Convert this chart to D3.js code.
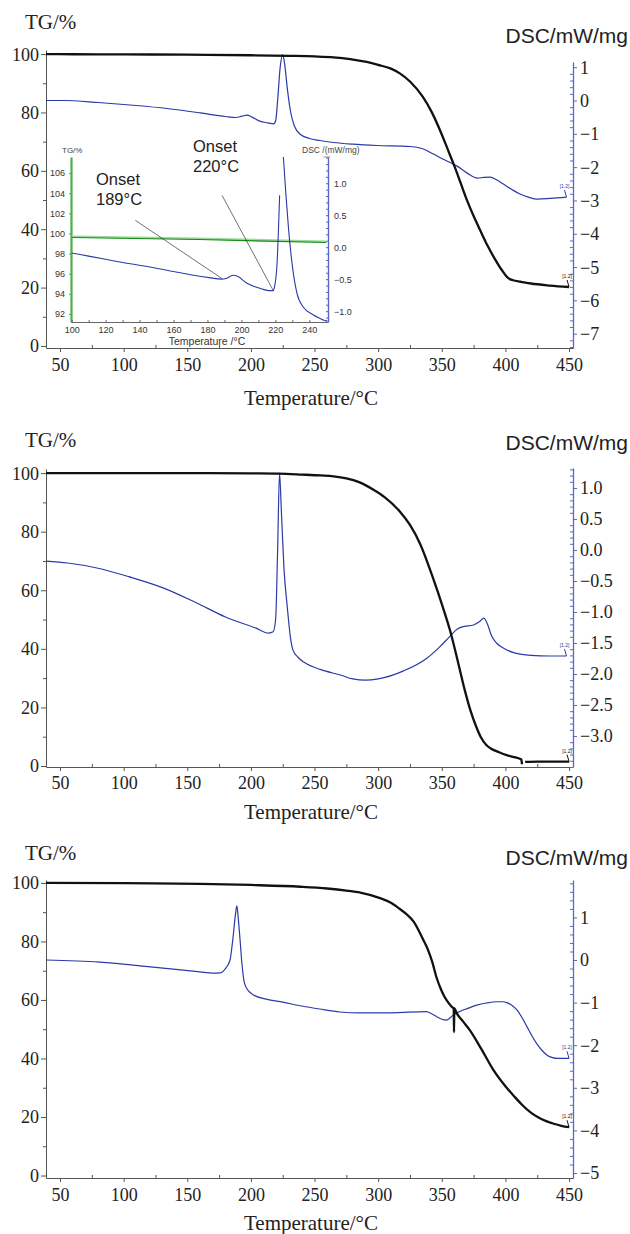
<!DOCTYPE html>
<html>
<head>
<meta charset="utf-8">
<script src="https://cdn.jsdelivr.net/npm/d3@7"></script>
<style>
  body { margin: 0; background: #fff; }
</style>
</head>
<body>
<div id="chart"></div>
<script>
// ---- data ----
const tempTicks = [50, 100, 150, 200, 250, 300, 350, 400, 450];
const tgTicks = [0, 20, 40, 60, 80, 100];
const dscTicks1 = [1, 0, -1, -2, -3, -4, -5, -6, -7];
const dscTicks2 = [1.0, 0.5, 0.0, -0.5, -1.0, -1.5, -2.0, -2.5, -3.0];
const dscTicks3 = [1, 0, -1, -2, -3, -4, -5];

// [temperature, TG %]
const tg1 = [[39,100],[60,99.95],[100,99.9],[150,99.8],[200,99.6],[230,99.4],[250,99.2],[265,98.9],[278,98.3],
  [291,97.3],[300,96.3],[310,95.0],[317,93.4],[325,90.6],[335,85.4],[342,80.2],[349,73.5],[355,67],[360,61.5],
  [365,55.6],[370,49.7],[375,44.5],[380,39.8],[386,34.3],[392,29.6],[397,26.1],[402,23.3],[406,22.5],[412,22],
  [420,21.4],[435,20.7],[450,20.2]];
// [temperature, DSC mW/mg]
const dsc1 = [[39,0],[53,0],[80,-0.06],[110,-0.15],[134,-0.24],[160,-0.37],[180,-0.48],[188,-0.51],[193,-0.47],
  [197,-0.44],[201,-0.5],[207,-0.62],[213,-0.67],[218,-0.7],[219.5,-0.6],[221,0],[223,1.0],[225,1.38],
  [226.5,1.1],[228.5,0.4],[231,-0.3],[234,-0.75],[239,-1.02],[246,-1.14],[254,-1.2],[265,-1.26],[280,-1.31],
  [299,-1.35],[325,-1.38],[335,-1.45],[343,-1.6],[352,-1.78],[362,-1.97],[370,-2.18],[378,-2.33],[383,-2.31],
  [388,-2.3],[393,-2.38],[398,-2.5],[405,-2.67],[411,-2.8],[418,-2.9],[425,-2.96],[435,-2.94],[448,-2.9]];

const tg2 = [[39,100],[100,100],[150,100],[200,99.9],[222,99.8],[240,99.5],[255,99.2],[265,98.9],[275,98.2],
  [285,96.9],[296,94.4],[305,91.8],[317,86.9],[325,82.3],[333,75.8],[343,64.3],[351,54],[357,45.5],[363,35],
  [368,26],[372.5,19],[377,13.5],[380.5,10],[385,7.2],[388.5,6],[395,4.7],[401,3.7],[407,3],[412.5,2.2],
  [413,0.6],[414,null],[415.5,1.4],[425,1.5],[440,1.5],[450,1.5]];
const dsc2 = [[39,-0.18],[56,-0.21],[79,-0.29],[104,-0.43],[131,-0.61],[157,-0.85],[180,-1.08],[204,-1.26],
  [214,-1.34],[217.5,-1.32],[219.5,-1.1],[221,0],[222.5,1.24],[224,0.6],[226,-0.3],[228.5,-0.9],[231,-1.4],
  [233,-1.61],[237,-1.73],[242.5,-1.82],[255,-1.93],[271,-2.02],[280,-2.08],[290,-2.1],[300,-2.08],[320,-1.95],
  [338,-1.75],[348,-1.57],[356,-1.4],[362,-1.28],[366,-1.24],[375,-1.21],[380,-1.15],[383,-1.1],[386,-1.2],
  [389,-1.38],[393,-1.5],[400,-1.6],[407,-1.66],[420,-1.7],[435,-1.71],[448,-1.71]];

const tg3 = [[39,100],[100,99.9],[160,99.7],[200,99.3],[239,98.7],[260,98.1],[275,97.4],[286,96.7],[301.5,94.8],
  [310,93.2],[317,91.1],[322,89.4],[328,86.7],[335.5,80.5],[339,77.3],[342.5,73],[346,67.5],[349,64],[352,61.2],
  [355,59.2],[358,57.6],[359.4,57],[359.6,49],[359.8,57.2],[361.7,55.5],[367,52.5],[372,49.7],[381,43.3],
  [390.5,36.1],[400,30.5],[407,27],[413,24.2],[420,21.5],[426,19.8],[432,18.6],[438,17.7],[444,17],[450,16.5]];
const dsc3 = [[39,0],[81,-0.05],[121,-0.16],[160,-0.28],[170,-0.31],[176,-0.3],[180,-0.2],[183.6,0],[186,0.54],
  [188,1.1],[189,1.27],[190,1.0],[191.5,0.47],[193,-0.1],[195,-0.55],[198,-0.72],[202,-0.82],[212,-0.92],
  [225,-0.99],[240,-1.08],[254,-1.15],[270,-1.22],[286,-1.24],[310,-1.24],[338,-1.21],[342,-1.26],[346,-1.33],
  [350,-1.39],[353.3,-1.41],[356,-1.37],[359,-1.29],[364,-1.21],[370,-1.14],[377.5,-1.06],[385,-1.01],
  [393,-0.98],[398,-0.98],[401,-1.0],[405,-1.06],[409,-1.17],[413,-1.35],[417,-1.57],[421,-1.79],[425,-1.98],
  [429,-2.13],[433,-2.24],[437,-2.29],[441,-2.31],[450,-2.31]];

// inset of plot 1
const insetTempTicks = [100, 120, 140, 160, 180, 200, 220, 240];
const insetTgTicks = [92, 94, 96, 98, 100, 102, 104, 106];
const insetDscTicks = [1.0, 0.5, 0.0, -0.5, -1.0];
const insetTg = [[100,99.6],[175,99.4],[250,99.1]];
const insetDsc = [[100,-0.09],[110,-0.14],[120,-0.19],[130,-0.24],[146,-0.31],[160,-0.38],[170,-0.43],[182,-0.48],
  [188,-0.5],[191,-0.49],[195,-0.44],[198,-0.46],[203,-0.56],[208,-0.62],[213,-0.66],[216,-0.68],[218.6,-0.68],
  [219.5,-0.62],[221,-0.25],[222.5,0.81],[223.5,null],[224.7,1.42],[226,0.9],[227.8,0.27],[229.8,-0.25],
  [232.7,-0.72],[236.5,-0.94],[242.4,-1.06],[246,-1.11],[250.4,-1.16]];
const onsetNames = ["189°C", "220°C"];
const onsetPoints = [[188.5,-0.49],[218.8,-0.68]];   // where the leader lines end
const leaderStarts = [[137.5,0.42],[188.6,0.81]];

// ---- drawing ----
const W = 630, H = 1234;
const serif = "'Liberation Serif','Times New Roman',serif";
const sans = "'Liberation Sans',Arial,sans-serif";
const blue = "#2a3aa6";
const axisBlue = "#5a68c4";
const axisGray = "#555";

const svg = d3.select("#chart").append("svg").attr("width", W).attr("height", H);

const x = d3.scaleLinear().domain([39, 453.1]).range([46, 573]);

const panels = [
  {tg: tg1, dsc: dsc1, dscTicks: dscTicks1, minorStep: 0.2, fmt: d3.format("d"),
   top: 50, rightTop: 62, bottom: 348, tgDom: [-0.7, 101.4], dscDom: [-7.43, 1.156],
   tickY: 371, titleY: 405, tgLabelY: 29, dscLabelY: 43},
  {tg: tg2, dsc: dsc2, dscTicks: dscTicks2, minorStep: 0.1, fmt: d3.format(".1f"),
   top: 469, rightTop: 468, bottom: 767, tgDom: [-0.34, 101.4], dscDom: [-3.5, 1.3226],
   tickY: 789, titleY: 819, tgLabelY: 447, dscLabelY: 450},
  {tg: tg3, dsc: dsc3, dscTicks: dscTicks3, minorStep: 0.2, fmt: d3.format("d"),
   top: 880, rightTop: 880, bottom: 1178, tgDom: [-0.85, 101.0], dscDom: [-5.117, 1.878],
   tickY: 1201, titleY: 1230, tgLabelY: 860, dscLabelY: 865}
];

function styleAxis(g, color, font, size) {
  g.select(".domain").attr("stroke", color);
  g.selectAll(".tick line").attr("stroke", color);
  g.selectAll("text").attr("fill", "#222").style("font-family", font).style("font-size", size + "px");
}

function endMarker(g, pt, xs, ys, color) {
  var px = xs(pt[0]), py = ys(pt[1]);
  g.append("path").attr("d", "M" + px + "," + py + "L" + (px - 2) + "," + (py - 7))
    .attr("stroke", color).attr("fill", "none").attr("stroke-width", 1);
  g.append("text").attr("x", px - 2).attr("y", py - 9).attr("text-anchor", "middle")
    .style("font-family", sans).style("font-size", "5px").attr("fill", color).text("[1.2]");
}

panels.forEach(function(p) {
  var g = svg.append("g");
  var yTg = d3.scaleLinear().domain(p.tgDom).range([p.bottom, p.top]);
  var yDsc = d3.scaleLinear().domain(p.dscDom).range([p.bottom, p.rightTop]);

  // left TG axis
  var left = g.append("g").attr("transform", "translate(46,0)")
    .call(d3.axisLeft(yTg).tickValues(tgTicks).tickSize(5).tickSizeOuter(0).tickPadding(2));
  styleAxis(left, axisGray, serif, 18);
  left.selectAll("text").attr("dy", "0.33em");
  var leftMinor = g.append("g").attr("transform", "translate(46,0)")
    .call(d3.axisLeft(yTg).tickValues([10, 30, 50, 70, 90]).tickSize(3).tickFormat(""));
  leftMinor.select(".domain").remove();
  leftMinor.selectAll("line").attr("stroke", axisGray);

  // bottom temperature axis
  var bottom = g.append("g").attr("transform", "translate(0," + p.bottom + ")")
    .call(d3.axisBottom(x).tickValues(tempTicks).tickSize(4).tickSizeOuter(0));
  styleAxis(bottom, axisGray, serif, 18);
  bottom.selectAll("text").attr("y", p.tickY - p.bottom).attr("dy", 0);
  var bottomMinor = g.append("g").attr("transform", "translate(0," + p.bottom + ")")
    .call(d3.axisBottom(x).tickValues(d3.range(75, 450, 50)).tickSize(-3).tickFormat(""));
  bottomMinor.select(".domain").remove();
  bottomMinor.selectAll("line").attr("stroke", axisGray);

  // right DSC axis
  var right = g.append("g").attr("transform", "translate(573,0)")
    .call(d3.axisRight(yDsc).tickValues(p.dscTicks).tickSize(4).tickSizeOuter(0).tickPadding(3).tickFormat(p.fmt));
  styleAxis(right, axisBlue, serif, 18);
  right.select(".domain").attr("stroke-width", 1.3);
  right.selectAll("text").attr("dy", "0.33em");
  var minors = d3.range(Math.ceil(p.dscDom[0] / p.minorStep), Math.floor(p.dscDom[1] / p.minorStep) + 1)
    .map(function(i) { return +(i * p.minorStep).toFixed(2); })
    .filter(function(v) { return p.dscTicks.indexOf(v) < 0; });
  var rightMinor = g.append("g").attr("transform", "translate(573,0)")
    .call(d3.axisRight(yDsc).tickValues(minors).tickSize(-3).tickFormat(""));
  rightMinor.select(".domain").remove();
  rightMinor.selectAll("line").attr("stroke", axisBlue);

  // titles
  g.append("text").attr("x", 25).attr("y", p.tgLabelY).style("font-family", serif).style("font-size", "21px")
    .attr("fill", "#222").text("TG/%");
  g.append("text").attr("x", 628).attr("y", p.dscLabelY).attr("text-anchor", "end")
    .style("font-family", sans).style("font-size", "21px").attr("fill", "#222").text("DSC/mW/mg");
  g.append("text").attr("x", 311).attr("y", p.titleY).attr("text-anchor", "middle")
    .style("font-family", serif).style("font-size", "21px").attr("fill", "#222").text("Temperature/°C");

  // curves
  var dscLine = d3.line().defined(function(d) { return d[1] != null; })
    .x(function(d) { return x(d[0]); }).y(function(d) { return yDsc(d[1]); }).curve(d3.curveMonotoneX);
  var tgLine = d3.line().defined(function(d) { return d[1] != null; })
    .x(function(d) { return x(d[0]); }).y(function(d) { return yTg(d[1]); }).curve(d3.curveMonotoneX);

  g.append("path").datum(p.dsc).attr("d", dscLine).attr("fill", "none")
    .attr("stroke", blue).attr("stroke-width", 1.2);
  g.append("path").datum(p.tg).attr("d", tgLine).attr("fill", "none")
    .attr("stroke", "#111").attr("stroke-width", 2.3).attr("stroke-linejoin", "round");

  endMarker(g, p.dsc[p.dsc.length - 1], x, yDsc, blue);
  endMarker(g, p.tg[p.tg.length - 1], x, yTg, "#111");
});

// ---- inset in the first plot ----
const ix = d3.scaleLinear().domain([99.6, 251]).range([71, 328]);
const iTg = d3.scaleLinear().domain([91.2, 107.6]).range([322, 157]);
const iDsc = d3.scaleLinear().domain([-1.17, 1.41]).range([322, 157]);
const inset = svg.append("g");

inset.append("clipPath").attr("id", "insetClip").append("rect")
  .attr("x", 71).attr("y", 157).attr("width", 257).attr("height", 165);

var iLeft = inset.append("g").attr("transform", "translate(71,0)")
  .call(d3.axisLeft(iTg).tickValues(insetTgTicks).tickSize(2).tickSizeOuter(0).tickPadding(4));
styleAxis(iLeft, "#4cae4c", sans, 9);
iLeft.select(".domain").attr("stroke-width", 2.2);
iLeft.selectAll("text").attr("fill", "#333");

var iBottom = inset.append("g").attr("transform", "translate(0,322)")
  .call(d3.axisBottom(ix).tickValues(d3.range(100, 251, 10)).tickSize(-2).tickSizeOuter(0)
    .tickFormat(function(d) { return insetTempTicks.indexOf(d) >= 0 ? d : ""; }));
styleAxis(iBottom, "#666", sans, 9);
iBottom.selectAll("text").attr("y", 10.5).attr("dy", 0).attr("fill", "#333");

var iRight = inset.append("g").attr("transform", "translate(328,0)")
  .call(d3.axisRight(iDsc).tickValues(d3.range(-11, 15).map(function(i) { return i / 10; }))
    .tickSize(-2).tickSizeOuter(0).tickPadding(6)
    .tickFormat(function(d) { return insetDscTicks.indexOf(d) >= 0 ? d3.format(".1f")(d) : ""; }));
styleAxis(iRight, axisBlue, sans, 9);
iRight.select(".domain").attr("stroke-width", 1.4);
iRight.selectAll("text").attr("fill", "#333");

inset.append("text").attr("x", 62).attr("y", 153).style("font-family", sans).style("font-size", "8px")
  .attr("fill", "#444").text("TG/%");
inset.append("text").attr("x", 302).attr("y", 153).style("font-family", sans).style("font-size", "8.5px")
  .attr("fill", "#444").text("DSC /(mW/mg)");
inset.append("text").attr("x", 330).attr("y", 157.5).attr("text-anchor", "end").style("font-family", sans)
  .style("font-size", "3.5px").attr("fill", "#666").text("↓exo");
inset.append("text").attr("x", 207).attr("y", 344.5).attr("text-anchor", "middle").style("font-family", sans)
  .style("font-size", "10.5px").attr("fill", "#333").text("Temperature /°C");

var iTgLine = d3.line().x(function(d) { return ix(d[0]); }).y(function(d) { return iTg(d[1]); });
inset.append("path").datum(insetTg).attr("d", iTgLine).attr("transform", "translate(0,-1)")
  .attr("fill", "none").attr("stroke", "#9fd89f").attr("stroke-width", 2.2);
inset.append("path").datum(insetTg).attr("d", iTgLine).attr("fill", "none")
  .attr("stroke", "#118a11").attr("stroke-width", 1.2);

var iDscLine = d3.line().defined(function(d) { return d[1] != null; })
  .x(function(d) { return ix(d[0]); }).y(function(d) { return iDsc(d[1]); }).curve(d3.curveMonotoneX);
inset.append("path").datum(insetDsc).attr("d", iDscLine).attr("clip-path", "url(#insetClip)")
  .attr("fill", "none").attr("stroke", blue).attr("stroke-width", 1.1);

// onset annotations
const labelPos = [[96, 185], [193, 152]];
onsetNames.forEach(function(name, i) {
  inset.append("line")
    .attr("x1", ix(leaderStarts[i][0])).attr("y1", iDsc(leaderStarts[i][1]))
    .attr("x2", ix(onsetPoints[i][0])).attr("y2", iDsc(onsetPoints[i][1]))
    .attr("stroke", "#333").attr("stroke-width", 0.7);
  var t = inset.append("text").style("font-family", sans).style("font-size", "16.5px").attr("fill", "#222");
  t.append("tspan").attr("x", labelPos[i][0]).attr("y", labelPos[i][1]).text("Onset");
  t.append("tspan").attr("x", labelPos[i][0]).attr("y", labelPos[i][1] + 20).text(name);
});
</script>
</body>
</html>
